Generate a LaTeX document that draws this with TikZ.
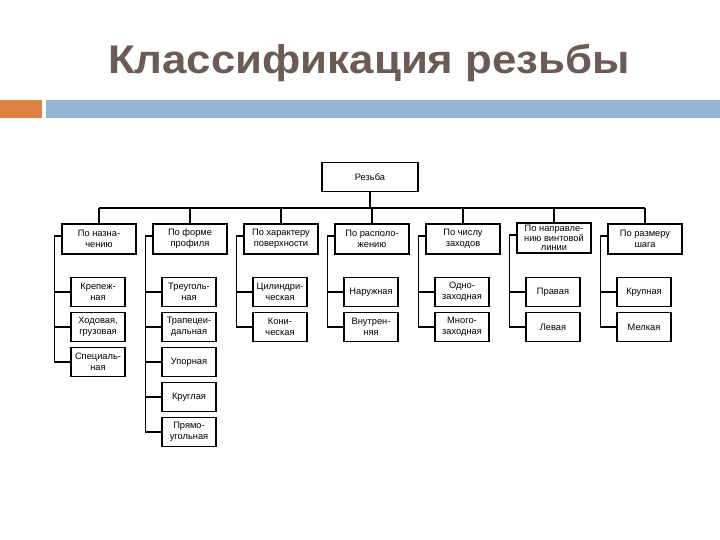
\documentclass[tikz,border=0pt]{standalone}
\usepackage{fontspec}
\setmainfont{Liberation Sans}
\definecolor{titlecol}{RGB}{108,90,84}
\definecolor{barorange}{RGB}{222,129,66}
\definecolor{barblue}{RGB}{149,179,211}
\begin{document}
\begin{tikzpicture}[x=1pt,y=-1pt,
  box/.style={draw, line width=1.1pt, fill=white, align=center, inner sep=0pt,
    font=\fontsize{9.3}{11}\selectfont},
  cat/.style={box, minimum width=74pt, minimum height=30pt},
  leaf/.style={box, minimum width=54pt, minimum height=29pt},
  conn/.style={line width=1.1pt}]
\useasboundingbox[fill=white] (0,0) rectangle (720,540);
% title
\node[text=titlecol, font=\bfseries\fontsize{40}{44}\selectfont] (title) at (369,63) {\scalebox{1.095}[1]{Классификация резьбы}};
% bars
\fill[barorange] (0,100) rectangle (42,118);
\fill[barblue] (46,100) rectangle (720,118);
% root
\node[box, minimum width=96pt, minimum height=29pt] (rez) at (370,177) {Резьба};
% categories
\node[cat] (c1) at (99,239) {По назна-\\чению};
\node[cat] (c2) at (190,239) {По форме\\профиля};
\node[cat] (c3) at (281,239) {По характеру\\поверхности};
\node[cat] (c4) at (372,239) {По располо-\\жению};
\node[cat] (c5) at (463,239) {По числу\\заходов};
\node[cat, font=\fontsize{9.3}{9.2}\selectfont] (c6) at (554,238) {По направле-\\нию винтовой\\линии};
\node[cat] (c7) at (645,239) {По размеру\\шага};
% leaves
\node[leaf] (l11) at (98,292) {Крепеж-\\ная};
\node[leaf] (l12) at (98,327) {Ходовая,\\грузовая};
\node[leaf] (l13) at (98,362) {Специаль-\\ная};
\node[leaf] (l21) at (189,292) {Треуголь-\\ная};
\node[leaf] (l22) at (189,327) {Трапецеи-\\дальная};
\node[leaf] (l23) at (189,362) {Упорная};
\node[leaf] (l24) at (189,397) {Круглая};
\node[leaf] (l25) at (189,432) {Прямо-\\угольная};
\node[leaf] (l31) at (280,292) {Цилиндри-\\ческая};
\node[leaf] (l32) at (280,327) {Кони-\\ческая};
\node[leaf] (l41) at (371,292) {Наружная};
\node[leaf] (l42) at (371,327) {Внутрен-\\няя};
\node[leaf] (l51) at (462,292) {Одно-\\заходная};
\node[leaf] (l52) at (462,327) {Много-\\заходная};
\node[leaf] (l61) at (553,292) {Правая};
\node[leaf] (l62) at (553,327) {Левая};
\node[leaf] (l71) at (644,292) {Крупная};
\node[leaf] (l72) at (644,327) {Мелкая};
% bus
\coordinate (busL) at (99,208);
\coordinate (busR) at (645,208);
\draw[conn] (busL) -- (busR);
\draw[conn] (rez.south) -- (rez.south |- busL);
\foreach \c in {c1,c2,c3,c4,c5,c6,c7}
  \draw[conn] (\c.north) -- (\c.north |- busL);
% trunks
\foreach \c/\l in {c1/l11,c1/l12,c1/l13,
                   c2/l21,c2/l22,c2/l23,c2/l24,c2/l25,
                   c3/l31,c3/l32,c4/l41,c4/l42,c5/l51,c5/l52,
                   c6/l61,c6/l62,c7/l71,c7/l72}
  \draw[conn] ([yshift=3pt]\c.west) -- ++(-7,0) |- (\l.west);
\end{tikzpicture}
\end{document}
